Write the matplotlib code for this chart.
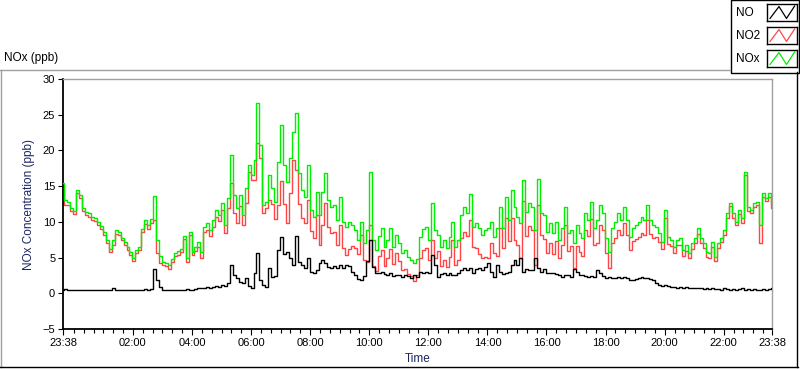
import numpy as np
import matplotlib
matplotlib.use('Agg')
import matplotlib.pyplot as plt
from matplotlib.lines import Line2D
from matplotlib.patches import Rectangle

# one sample every 6 minutes, starting 23:38
start_time = '23:38'
step_min = 6

nox_ppb = [
    15.5, 13.0, 12.8, 12.0, 11.5, 14.5, 13.8, 12.0, 11.4, 11.2,
    10.7, 10.5, 10.0, 9.4, 8.6, 7.5, 6.2, 7.5, 8.8, 8.6,
    7.8, 7.2, 6.5, 5.8, 5.0, 6.0, 6.5, 9.0, 10.3, 9.5,
    10.4, 13.6, 7.5, 5.2, 4.4, 4.2, 3.9, 4.8, 5.6, 5.9,
    6.2, 8.0, 5.0, 8.6, 5.8, 6.5, 7.2, 5.8, 9.3, 9.8,
    8.8, 10.2, 11.7, 11.0, 12.7, 9.5, 13.4, 19.4, 13.8, 12.0,
    13.8, 11.0, 14.8, 18.0, 16.6, 18.7, 26.7, 20.8, 12.4, 12.8,
    16.6, 14.8, 12.8, 18.4, 23.6, 18.0, 15.6, 19.0, 22.6, 25.2,
    16.9, 14.5, 13.5, 18.0, 11.7, 10.7, 14.2, 11.0, 14.2, 16.9,
    13.0, 12.1, 12.4, 10.3, 13.5, 10.0, 9.3, 10.0, 9.6, 8.9,
    7.5, 10.0, 7.0, 8.9, 17.0, 7.5, 6.0, 8.0, 9.1, 6.5,
    7.5, 9.1, 6.5, 8.2, 7.0, 5.6, 6.0, 5.1, 4.6, 4.2,
    4.8, 7.9, 9.0, 9.3, 7.5, 12.7, 8.9, 8.2, 6.5, 7.5,
    6.3, 7.9, 10.0, 6.5, 7.5, 11.0, 12.1, 11.2, 13.9, 9.3,
    9.8, 9.1, 8.2, 8.8, 9.1, 10.0, 7.9, 9.1, 12.1, 9.1,
    13.5, 10.3, 14.5, 12.1, 10.7, 9.8, 15.9, 11.4, 12.7, 12.1,
    8.9, 16.0, 11.2, 11.0, 8.6, 9.8, 8.4, 10.0, 7.5, 9.1,
    12.1, 8.4, 8.9, 7.0, 9.6, 8.4, 7.7, 11.2, 10.3, 12.8,
    9.1, 10.3, 12.4, 11.2, 7.7, 5.8, 9.1, 10.0, 11.2, 10.3,
    12.1, 10.3, 7.9, 9.1, 9.6, 10.0, 10.7, 10.3, 12.4, 10.3,
    9.6, 9.3, 8.4, 7.2, 11.7, 7.9, 7.5, 6.5, 7.5, 7.7,
    6.0, 6.8, 5.6, 7.0, 7.7, 9.1, 7.7, 7.0, 5.8, 5.6,
    7.2, 5.1, 7.0, 7.7, 8.9, 11.2, 12.7, 11.2, 10.0, 11.7,
    10.5, 17.0, 12.1, 11.7, 12.7, 12.8, 9.6, 14.1, 13.4, 14.1,
    12.7,
]

no_ppb = [
    0.5, 0.6, 0.4, 0.5, 0.4, 0.5, 0.4, 0.5, 0.4, 0.5,
    0.4, 0.4, 0.5, 0.4, 0.4, 0.5, 0.4, 0.8, 0.5, 0.4,
    0.4, 0.5, 0.4, 0.4, 0.5, 0.4, 0.5, 0.4, 0.6, 0.5,
    0.6, 3.4, 1.8, 0.9, 0.5, 0.4, 0.5, 0.4, 0.4, 0.5,
    0.4, 0.4, 0.6, 0.5, 0.5, 0.6, 0.7, 0.8, 0.7, 0.9,
    0.8, 0.9, 1.0, 0.9, 1.1, 1.0, 1.4, 3.9, 2.5, 2.1,
    1.6, 1.4, 2.1, 1.0, 0.8, 2.8, 5.6, 1.8, 1.1, 0.9,
    3.6, 2.3, 2.4, 6.0, 7.9, 5.5, 5.8, 5.0, 4.0, 8.0,
    4.4, 4.0, 3.6, 4.9, 3.0, 2.9, 3.2, 4.2, 4.6, 4.2,
    3.7, 3.6, 3.8, 3.5, 4.0, 3.6, 3.9, 3.8, 3.0, 2.6,
    2.0, 1.9, 2.4, 4.5, 7.5, 3.7, 2.9, 2.8, 3.0, 2.7,
    2.5, 2.9, 2.4, 2.6, 2.5, 2.3, 2.6, 2.4, 2.2, 2.5,
    2.3, 3.0, 2.9, 3.0, 2.8, 5.3, 4.0, 2.3, 2.7, 2.9,
    2.6, 2.8, 2.6, 2.5, 2.9, 3.3, 3.5, 3.2, 3.6, 2.8,
    3.4, 3.6, 3.3, 3.7, 4.2, 3.0, 2.3, 3.9, 3.0, 2.7,
    2.9, 3.0, 3.9, 4.6, 3.9, 4.9, 3.0, 3.4, 3.3, 3.2,
    4.9, 3.6, 3.0, 3.4, 2.9, 2.8, 2.9, 2.7, 2.5, 2.3,
    2.5, 2.5, 2.3, 3.4, 3.0, 2.6, 2.5, 2.4, 2.3, 2.4,
    2.3, 3.3, 2.8, 2.4, 2.1, 2.3, 2.1, 2.2, 2.3, 2.2,
    2.3, 2.1, 1.9, 1.8, 2.0, 2.1, 2.3, 2.2, 2.1, 2.0,
    1.8, 1.4, 1.2, 1.0, 1.2, 1.0, 0.9, 0.9, 0.8, 0.9,
    0.8, 0.9, 0.7, 0.8, 0.7, 0.8, 0.7, 0.6, 0.7, 0.6,
    0.7, 0.6, 0.6, 0.5, 0.7, 0.6, 0.5, 0.6, 0.5, 0.6,
    0.7, 0.5, 0.6, 0.5, 0.6, 0.5, 0.4, 0.6, 0.5, 0.6,
    0.7,
]

no2_ppb = [
    15.0, 12.4, 12.4, 11.5, 11.1, 14.0, 13.4, 11.5, 11.0, 10.7,
    10.3, 10.1, 9.5, 9.0, 8.2, 7.0, 5.8, 6.7, 8.3, 8.2,
    7.4, 6.7, 6.1, 5.4, 4.5, 5.6, 6.0, 8.6, 9.7, 9.0,
    9.8, 10.2, 5.7, 4.3, 3.9, 3.8, 3.4, 4.4, 5.2, 5.4,
    5.8, 7.6, 4.4, 8.1, 5.3, 5.9, 6.5, 5.0, 8.6, 8.9,
    8.0, 9.3, 10.7, 10.1, 11.6, 8.5, 12.0, 15.5, 11.3, 9.9,
    12.2, 9.6, 12.7, 17.0, 15.8, 15.9, 21.1, 19.0, 11.3, 11.9,
    13.0, 12.5, 10.4, 12.4, 15.7, 12.5, 9.8, 14.0, 18.6, 17.2,
    12.5, 10.5, 9.9, 13.1, 8.7, 7.8, 11.0, 6.8, 9.6, 12.7,
    9.3, 8.5, 8.6, 6.8, 9.5, 6.4, 5.4, 6.2, 6.6, 6.3,
    5.5, 8.1, 4.6, 4.4, 9.5, 3.8, 3.1, 5.2, 6.1, 3.8,
    5.0, 6.2, 4.1, 5.6, 4.5, 3.3, 3.4, 2.7, 2.4, 1.7,
    2.5, 4.9, 6.1, 6.3, 4.7, 7.4, 4.9, 5.9, 3.8, 4.6,
    3.7, 5.1, 7.4, 4.0, 4.6, 7.7, 8.6, 8.0, 10.3, 6.5,
    6.4, 5.5, 4.9, 5.1, 4.9, 7.0, 5.6, 5.2, 9.1, 6.4,
    10.6, 7.3, 10.6, 7.5, 6.8, 4.9, 12.9, 8.0, 9.4, 8.9,
    4.0, 12.4, 8.2, 7.6, 5.7, 7.0, 5.5, 7.3, 5.0, 6.8,
    9.6, 5.9, 6.6, 3.6, 6.6, 5.8, 5.2, 8.8, 8.0, 10.4,
    6.8, 7.0, 9.6, 8.8, 5.6, 3.5, 7.0, 7.8, 8.9, 8.1,
    9.8, 8.2, 6.0, 7.3, 7.6, 7.9, 8.4, 8.1, 10.3, 8.3,
    7.8, 7.9, 7.2, 6.2, 10.5, 6.9, 6.6, 5.6, 6.7, 6.8,
    5.2, 5.9, 4.9, 6.2, 7.0, 8.3, 7.0, 6.4, 5.1, 5.0,
    6.5, 4.5, 6.4, 7.2, 8.2, 10.6, 12.2, 10.6, 9.5, 11.1,
    9.8, 16.5, 11.5, 11.2, 12.1, 12.3, 7.0, 13.5, 12.9, 13.5,
    12.0,
]

series_names = ['NO', 'NO2', 'NOx']
series_colors = ['#000000', '#ff4646', '#00ee00']
y_ticks = [-5, 0, 5, 10, 15, 20, 25, 30]
x_tick_labels = ['23:38', '02:00', '04:00', '06:00', '08:00', '10:00', '12:00',
                 '14:00', '16:00', '18:00', '20:00', '22:00', '23:38']

W, H = 800, 369
plt.rcParams['font.family'] = 'Liberation Sans'


def to_min(s):
    h, m = s.split(':')
    return int(h) * 60 + int(m)


def fx(x):
    return x / W


def fy(y):
    return 1 - y / H


t0 = to_min(start_time)
t = np.arange(len(nox_ppb)) * step_min
major = [(to_min(s) - t0) % 1440 for s in x_tick_labels]
major[-1] = 1440
minor = [m for m in range(2, 1441, 20) if min(abs(m - j) for j in major) > 3]

fig = plt.figure(figsize=(W / 100, H / 100), dpi=100)
fig.patch.set_facecolor('white')

ax = fig.add_axes([fx(63), fy(329), (772 - 63) / W, (329 - 79) / H])
line_kw = dict(lw=1.0, drawstyle='steps-mid')
ax.plot(t, no2_ppb, color=series_colors[1], zorder=2, **line_kw)
ax.plot(t, nox_ppb, color=series_colors[2], zorder=3, **line_kw)
ax.plot(t, no_ppb, color=series_colors[0], zorder=4, **line_kw)

ax.set_xlim(0, 1440)
ax.set_ylim(-5, 30)
ax.set_yticks(y_ticks)
ax.set_xticks(major)
ax.set_xticklabels(x_tick_labels)
ax.set_xticks(minor, minor=True)

for side in ['left', 'bottom']:
    ax.spines[side].set_color('black')
    ax.spines[side].set_linewidth(1.3)
for side in ['top', 'right']:
    ax.spines[side].set_color('#a0a0a0')
    ax.spines[side].set_linewidth(1.0)

ax.tick_params(axis='y', length=3.6, width=0.8, pad=2, labelsize=8)
ax.tick_params(axis='x', which='major', length=4.3, width=0.8, pad=2, labelsize=8)
ax.tick_params(axis='x', which='minor', length=2.8, width=0.8)

ax.set_ylabel('NOx Concentration (ppb)', fontsize=8.5, color='#1c2660')
ax.yaxis.set_label_coords((35 - 63) / 709, 0.5)
ax.set_xlabel('Time', fontsize=8.5, color='#1c2660')
ax.xaxis.set_label_coords(0.5, -0.098)

# chart caption above the frame
fig.text(fx(4), fy(58), 'NOx (ppb)', fontsize=8.5, va='center', ha='left')

# sunken frame around the plot area
fig.add_artist(Line2D([fx(0), fx(730)], [fy(69.5), fy(69.5)], color='#a0a0a0', lw=1))
fig.add_artist(Line2D([fx(0.5), fx(0.5)], [fy(69.5), fy(367)], color='#a0a0a0', lw=1))
fig.add_artist(Line2D([fx(0), fx(798)], [fy(367), fy(367)], color='black', lw=1))
fig.add_artist(Line2D([fx(797), fx(797)], [fy(72), fy(367)], color='black', lw=1))

# legend box with sample icons
fig.add_artist(Rectangle((fx(730.5), fy(72.5)), (798.5 - 730.5) / W, 72 / H,
                         facecolor='white', edgecolor='black', lw=1, zorder=-1))
icon_tops = [4, 27, 50]
for name, color, top in zip(series_names, series_colors, icon_tops):
    fig.text(fx(736), fy(top + 9), name, fontsize=8.5, va='center', ha='left')
    iax = fig.add_axes([fx(767), fy(top + 17), 30 / W, 17 / H])
    iax.plot([0.1, 0.4, 0.65, 0.92], [0.15, 0.85, 0.15, 0.88], color=color, lw=0.9)
    iax.set_xlim(0, 1)
    iax.set_ylim(0, 1)
    iax.set_xticks([])
    iax.set_yticks([])
    for s in iax.spines.values():
        s.set_color('black')
        s.set_linewidth(1)

fig.savefig('out.png', dpi=100, facecolor='white')
